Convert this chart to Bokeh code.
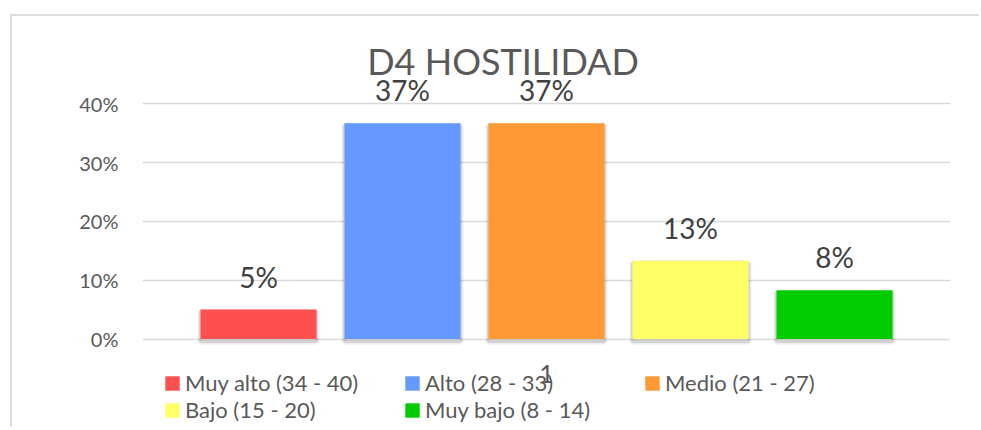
import math
from bokeh.plotting import figure
from bokeh.models import (Range1d, FixedTicker, Label, Legend, LegendItem,
                          ColumnDataSource)
from bokeh.embed import file_html
from bokeh.resources import INLINE
from bokeh.core.properties import value

# ---------------- data ----------------
categories = ["Muy alto (34 - 40)", "Alto (28 - 33)", "Medio (21 - 27)",
              "Bajo (15 - 20)", "Muy bajo (8 - 14)"]
frecuencia = [0.050, 0.367, 0.367, 0.133, 0.083]
etiquetas = ["5%", "37%", "37%", "13%", "8%"]
colores = ["#FF5050", "#6699FF", "#FF9933", "#FFFF66", "#00CC00"]
y_ticks = [0, 0.1, 0.2, 0.3, 0.4]
y_tick_labels = ["0%", "10%", "20%", "30%", "40%"]
grupo = "1"
titulo = "D4 HOSTILIDAD"
eje_y = "Frecuencia"

# ---------------- layout (page pixels) ----------------
BX, BY, BW = 10, 14, 2   # chart-area border position / width
OX, OY = BX + BW, BY + BW  # canvas origin on the page
W, H = 969, 413          # canvas size
FL, FR = 142, 950        # frame left / right
FT, FB = 20, OY + H      # frame top / bottom
Y0, PX_UNIT = 338.5, 588.0   # y pixel of 0 and pixels per 1.0
X_C0, X_STEP, BAR_PX = 258.0, 144.0, 116.0

def px_to_x(px):
    return (px - X_C0) / X_STEP

def py_to_y(py):
    return (Y0 - py) / PX_UNIT

FONT = "Lato"

p = figure(width=W, height=H, output_backend="svg", toolbar_location=None,
           title=None, x_axis_location=None,
           x_range=Range1d(px_to_x(FL), px_to_x(FR)),
           y_range=Range1d(py_to_y(FB), py_to_y(FT)),
           min_border_left=FL - OX, min_border_right=OX + W - FR,
           min_border_top=FT - OY, min_border_bottom=0)
p.styles = {"margin-left": f"{BX}px", "margin-top": f"{BY}px",
            "border-left": f"{BW}px solid #dcdcdc",
            "border-top": f"{BW}px solid #dcdcdc"}
p.outline_line_color = None
p.background_fill_color = "white"
p.border_fill_color = "white"

shadow_px = 2.5
src = ColumnDataSource(dict(x=list(range(len(categories))), top=frecuencia,
                            label=etiquetas, color=colores, cat=categories,
                            s_top=[v - shadow_px / PX_UNIT for v in frecuencia],
                            s_bot=[-shadow_px / PX_UNIT] * len(frecuencia)))

# axis
ticker = FixedTicker(ticks=y_ticks)
p.yaxis.ticker = ticker
p.yaxis.major_label_overrides = dict(zip(y_ticks, y_tick_labels))
p.yaxis.axis_line_color = None
p.yaxis.major_tick_line_color = None
p.yaxis.minor_tick_line_color = None
p.yaxis.major_tick_out = 0
p.yaxis.major_tick_in = 0
p.yaxis.major_label_standoff = 24
p.yaxis.major_label_text_font = FONT
p.yaxis.major_label_text_font_size = "20px"
p.yaxis.major_label_text_color = "#595959"
p.xgrid.visible = False
p.ygrid.ticker = ticker
p.ygrid.grid_line_color = "#d9d9d9"
p.ygrid.grid_line_width = 1.5

bw = BAR_PX / X_STEP
# soft shadow (slightly below the bars)
p.vbar(x="x", top="s_top", bottom="s_bot", width=bw, source=src, fill_color=None,
       line_color="#000000", line_alpha=0.07, line_width=6)
p.vbar(x="x", top="s_top", bottom="s_bot", width=bw, source=src, fill_color=None,
       line_color="#000000", line_alpha=0.10, line_width=3)
bars = p.vbar(x="x", top="top", width=bw, source=src, fill_color="color",
              line_color=None)

p.text(x="x", y="top", text="label", source=src, y_offset=-33,
       text_align="center", text_baseline="alphabetic",
       text_font=value(FONT), text_font_size="28px", text_color="#404040")

# category label
p.text(x=[(len(categories) - 1) / 2], y=[0], text=[grupo], y_offset=34.5,
       text_align="center", text_baseline="alphabetic",
       text_font=value(FONT), text_font_size="25px", text_color="#595959")

# title
p.add_layout(Label(x=px_to_x(502.5), y=py_to_y(60), text=titulo,
                   text_align="center", text_baseline="alphabetic",
                   text_font=FONT, text_font_size="36px", text_color="#595959"))
# y axis title
p.add_layout(Label(x=px_to_x(50.5), y=py_to_y(243), text=eje_y, angle=math.pi / 2,
                   text_align="center", text_baseline="middle",
                   text_font=FONT, text_font_size="27px", text_color="#595959"))

items = [LegendItem(label=categories[i], renderers=[bars], index=i)
         for i in range(len(categories))]
legend = Legend(items=items, location=(21, 6), orientation="horizontal",
                ncols=3, glyph_width=18, glyph_height=18, label_standoff=4,
                label_width=218, label_height=20, spacing=0, padding=0, margin=0,
                border_line_color=None, background_fill_alpha=0,
                label_text_font=FONT, label_text_font_size="22px",
                label_text_color="#595959")
p.add_layout(legend)

open("out.html", "w").write(file_html(p, INLINE))
